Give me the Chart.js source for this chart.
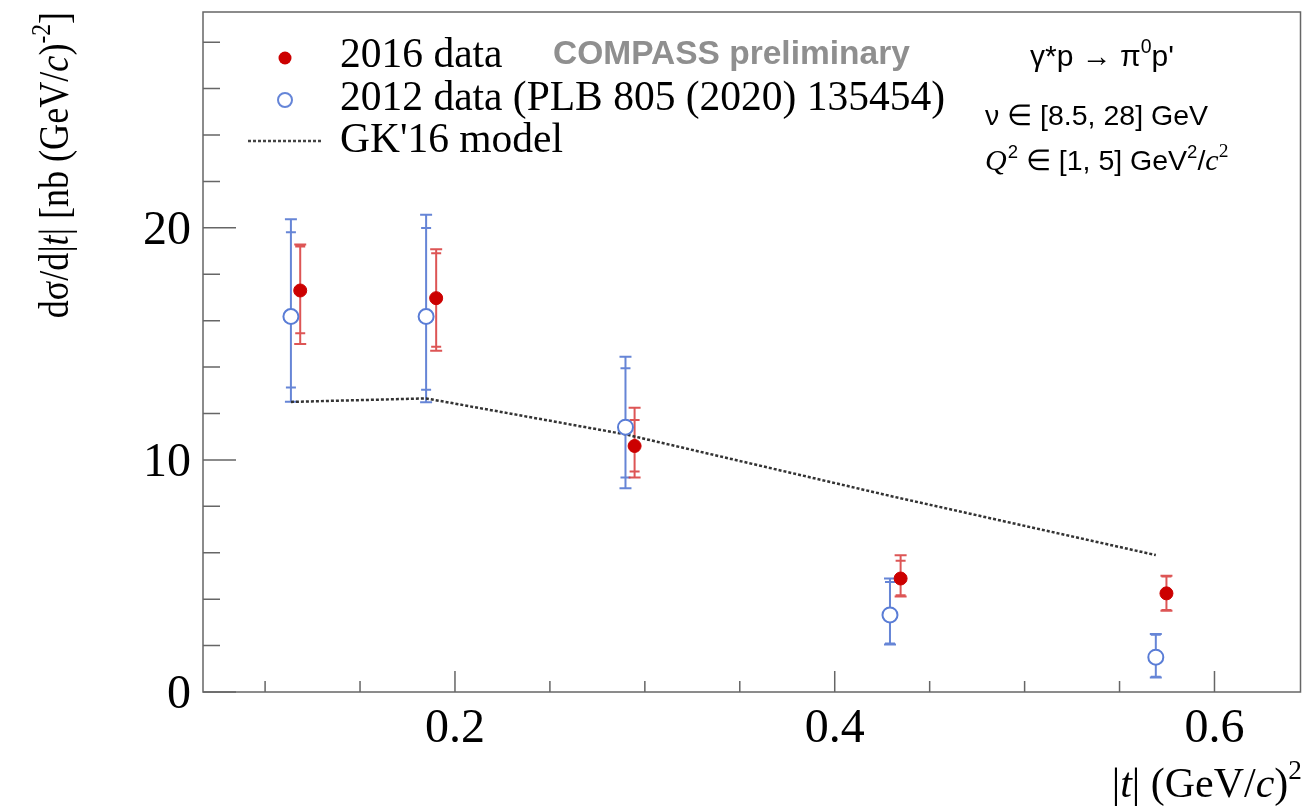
<!DOCTYPE html>
<html>
<head>
<meta charset="utf-8">
<script src="https://cdn.jsdelivr.net/npm/chart.js@4.4.1/dist/chart.umd.min.js"></script>
<style>
  body { margin: 0; background: #fff; }
  canvas { display: block; }
</style>
</head>
<body>
<canvas id="myChart" width="1310" height="808"></canvas>
<script>
// 2016 data: |t| bins, cross section, stat (inner) and total (outer) errors
var t2016 = [0.1185, 0.1901, 0.2946, 0.4347, 0.5747];
var xsec2016 = [17.30, 16.97, 10.60, 4.89, 4.25];
var statUp2016 = [1.90, 1.94, 1.12, 0.76, 0.73];
var statDn2016 = [1.84, 2.09, 1.10, 0.72, 0.72];
var totUp2016 = [1.98, 2.11, 1.65, 1.00, 0.76];
var totDn2016 = [2.30, 2.27, 1.36, 0.77, 0.75];

// 2012 data (PLB 805 (2020) 135454)
var t2012 = [0.1136, 0.1848, 0.2898, 0.4291, 0.5691];
var xsec2012 = [16.18, 16.18, 11.41, 3.32, 1.50];
var statUp2012 = [3.63, 3.81, 2.54, 1.42, 0.97];
var statDn2012 = [3.06, 3.16, 2.17, 1.23, 0.84];
var totUp2012 = [4.19, 4.38, 3.04, 1.57, 1.00];
var totDn2012 = [3.67, 3.69, 2.63, 1.27, 0.87];

// GK'16 model curve
var tModel = [0.1136, 0.1848, 0.2898, 0.4291, 0.5691];
var xsecModel = [12.50, 12.65, 11.10, 8.45, 5.90];

// axes
var xMin = 0.0673, xMax = 0.6453;
var yMin = 0, yMax = 29.3;
var xMajorTicks = [0.2, 0.4, 0.6];
var xTickLabels = ['0.2', '0.4', '0.6'];
var yMajorTicks = [0, 10, 20];
var yTickLabels = ['0', '10', '20'];

var SERIF = '"Liberation Serif", "Times New Roman", serif';
var SANS = '"Liberation Sans", Arial, Helvetica, sans-serif';

function toPoints(xs, ys) {
  return xs.map(function(x, i) { return { x: x, y: ys[i] }; });
}

// rich text: parts are [text, style] with style '', 'i', 'sup', 'isup'
function richWidth(ctx, parts, size, family) {
  var w = 0;
  parts.forEach(function(p) {
    var s = p[1] || '';
    var fs = s.indexOf('sup') >= 0 ? size * 0.65 : size;
    ctx.font = (s.indexOf('i') === 0 ? 'italic ' : '') + fs + 'px ' + family;
    w += ctx.measureText(p[0]).width;
  });
  return w;
}

function drawRich(ctx, parts, x, y, size, family, align) {
  var w = richWidth(ctx, parts, size, family);
  var cx = x;
  if (align === 'right') cx = x - w;
  if (align === 'center') cx = x - w / 2;
  ctx.textAlign = 'left';
  ctx.textBaseline = 'alphabetic';
  parts.forEach(function(p) {
    var s = p[1] || '';
    var sup = s.indexOf('sup') >= 0;
    var fs = sup ? size * 0.65 : size;
    ctx.font = (s.indexOf('i') === 0 ? 'italic ' : '') + fs + 'px ' + family;
    ctx.fillText(p[0], cx, sup ? y - size * 0.42 : y);
    cx += ctx.measureText(p[0]).width;
  });
  return w;
}

function drawErrors(ctx, xs, ys, ts, ys0, sUp, sDn, tUp, tDn, color, lw) {
  ctx.save();
  ctx.strokeStyle = color;
  ctx.lineWidth = lw;
  ts.forEach(function(t, i) {
    var px = xs.getPixelForValue(t);
    var hi = ys.getPixelForValue(ys0[i] + tUp[i]);
    var lo = ys.getPixelForValue(ys0[i] - tDn[i]);
    ctx.beginPath();
    ctx.moveTo(px, hi); ctx.lineTo(px, lo);
    // outer caps (total) and inner caps (stat)
    [[ys0[i] + tUp[i], 6], [ys0[i] - tDn[i], 6], [ys0[i] + sUp[i], 5], [ys0[i] - sDn[i], 5]].forEach(function(c) {
      var py = ys.getPixelForValue(c[0]);
      ctx.moveTo(px - c[1], py); ctx.lineTo(px + c[1], py);
    });
    ctx.stroke();
  });
  ctx.restore();
}

var errorBarPlugin = {
  id: 'errorBars',
  beforeDatasetsDraw: function(chart) {
    var ctx = chart.ctx;
    var xs = chart.scales.x, ys = chart.scales.y;
    drawErrors(ctx, xs, ys, t2012, xsec2012, statUp2012, statDn2012, totUp2012, totDn2012, 'rgba(85,120,210,0.9)', 2);
    drawErrors(ctx, xs, ys, t2016, xsec2016, statUp2016, statDn2016, totUp2016, totDn2016, 'rgba(215,55,55,0.85)', 2);
  }
};

var framePlugin = {
  id: 'frame',
  afterDraw: function(chart) {
    var ctx = chart.ctx;
    var a = chart.chartArea;
    var xs = chart.scales.x, ys = chart.scales.y;
    ctx.save();
    ctx.strokeStyle = '#666';
    ctx.lineWidth = 1.5;
    ctx.strokeRect(a.left, a.top, a.right - a.left, a.bottom - a.top);

    // ticks point into the frame
    ctx.beginPath();
    for (var v = 0.1; v < xMax; v += 0.05) {
      var px = xs.getPixelForValue(v);
      var major = xMajorTicks.some(function(m) { return Math.abs(m - v) < 1e-6; });
      ctx.moveTo(px, a.bottom); ctx.lineTo(px, a.bottom - (major ? 21 : 11));
    }
    for (var w = 0; w < yMax; w += 2) {
      var py = ys.getPixelForValue(w);
      var majorY = yMajorTicks.indexOf(w) >= 0;
      ctx.moveTo(a.left, py); ctx.lineTo(a.left + (majorY ? 33 : 17), py);
    }
    ctx.stroke();

    // tick labels
    ctx.fillStyle = '#000';
    ctx.font = '48px ' + SERIF;
    ctx.textAlign = 'center';
    ctx.textBaseline = 'alphabetic';
    xMajorTicks.forEach(function(v, i) {
      ctx.fillText(xTickLabels[i], xs.getPixelForValue(v), 742);
    });
    ctx.textAlign = 'right';
    yMajorTicks.forEach(function(v, i) {
      ctx.fillText(yTickLabels[i], 191, ys.getPixelForValue(v) + 16);
    });

    // axis titles
    drawRich(ctx, [['|'], ['t', 'i'], ['| (GeV/'], ['c', 'i'], [')'], ['2', 'sup']], 1302, 797, 42, SERIF, 'right');
    ctx.save();
    ctx.translate(68, a.top);
    ctx.rotate(-Math.PI / 2);
    ctx.scale(0.86, 1);
    drawRich(ctx, [['d\u03c3/d|'], ['t', 'i'], ['| [nb (GeV/'], ['c', 'i'], [')'], ['-2', 'sup'], [']']], 0, 0, 42, SERIF, 'right');
    ctx.restore();

    // legend
    ctx.fillStyle = '#cc0000';
    ctx.beginPath(); ctx.arc(285, 58, 6.5, 0, Math.PI * 2); ctx.fill();
    ctx.strokeStyle = '#6585d8'; ctx.lineWidth = 2;
    ctx.fillStyle = '#fff';
    ctx.beginPath(); ctx.arc(285, 100, 7, 0, Math.PI * 2); ctx.fill(); ctx.stroke();
    ctx.strokeStyle = '#444'; ctx.lineWidth = 2.5; ctx.setLineDash([3, 2]);
    ctx.beginPath(); ctx.moveTo(248, 141); ctx.lineTo(322, 141); ctx.stroke();
    ctx.setLineDash([]);
    ctx.fillStyle = '#000';
    ctx.textAlign = 'left';
    ctx.font = '41.5px ' + SERIF;
    ctx.fillText('2016 data', 340, 67);
    ctx.fillText('2012 data (PLB 805 (2020) 135454)', 340, 110);
    ctx.fillText("GK'16 model", 340, 152);

    ctx.fillStyle = '#8f8f8f';
    ctx.font = 'bold 33.5px ' + SANS;
    ctx.fillText('COMPASS preliminary', 553, 64);

    ctx.fillStyle = '#000';
    drawRich(ctx, [['\u03b3*p \u2192 \u03c0'], ['0', 'sup'], ["p'"]], 1030, 66, 30, SANS, 'left');
    drawRich(ctx, [['\u03bd \u2208 [8.5, 28] GeV']], 985, 125, 28.5, SANS, 'left');
    var wQ = drawRich(ctx, [['Q', 'i']], 985, 170, 30, SERIF, 'left');
    var wq = drawRich(ctx, [['2', 'sup'], [' \u2208 [1, 5] GeV'], ['2', 'sup'], ['/']], 985 + wQ + 1, 170, 28.5, SANS, 'left');
    drawRich(ctx, [['c', 'i'], ['2', 'sup']], 985 + wQ + 1 + wq, 170, 30, SERIF, 'left');
    ctx.restore();
  }
};

var canvas = document.getElementById('myChart');
var ctx = canvas.getContext('2d');

var myChart = new Chart(ctx, {
  type: 'scatter',
  data: {
    datasets: [{
      label: '2016 data',
      data: toPoints(t2016, xsec2016),
      pointRadius: 6.5,
      pointBackgroundColor: '#cc0000',
      pointBorderColor: '#cc0000',
      pointBorderWidth: 1
    }, {
      label: '2012 data (PLB 805 (2020) 135454)',
      data: toPoints(t2012, xsec2012),
      pointRadius: 7.5,
      pointBackgroundColor: '#fff',
      pointBorderColor: '#5a7dd6',
      pointBorderWidth: 2
    }, {
      label: "GK'16 model",
      data: toPoints(tModel, xsecModel),
      showLine: true,
      pointRadius: 0,
      borderColor: '#333',
      borderWidth: 2.5,
      borderDash: [3, 2],
      fill: false
    }]
  },
  options: {
    responsive: false,
    devicePixelRatio: 1,
    animation: false,
    layout: { padding: { left: 203, top: 12, right: 3, bottom: 116 } },
    scales: {
      x: { type: 'linear', min: xMin, max: xMax, display: false },
      y: { type: 'linear', min: yMin, max: yMax, display: false }
    },
    plugins: {
      legend: { display: false },
      tooltip: { enabled: false }
    }
  },
  plugins: [errorBarPlugin, framePlugin]
});
</script>
</body>
</html>
